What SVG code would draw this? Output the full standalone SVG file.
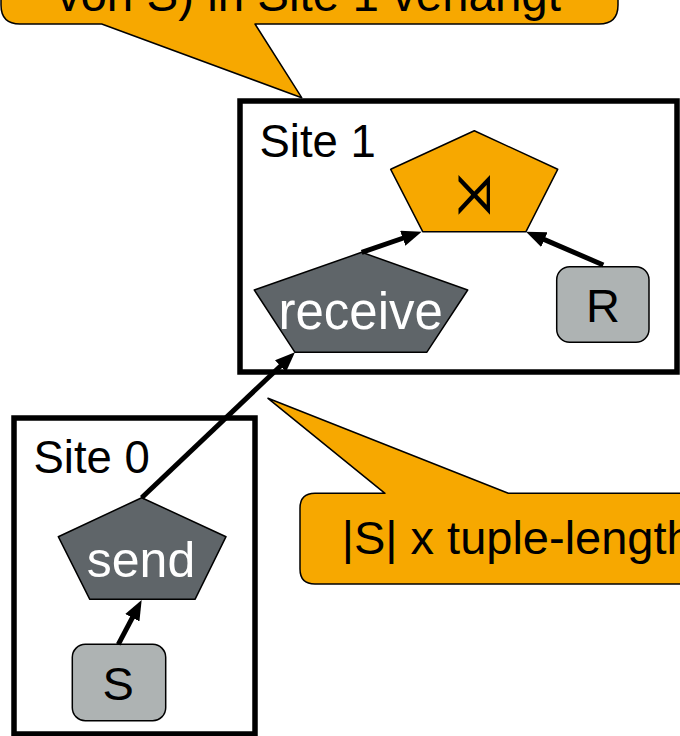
<svg xmlns="http://www.w3.org/2000/svg" width="680" height="736" viewBox="0 0 680 736">
  <style>
    .t { font-family: "Liberation Sans", Arial, sans-serif; fill: #000; }
    .w { font-family: "Liberation Sans", Arial, sans-serif; fill: #fff; }
    .callout { fill: #F7A800; stroke: #000; stroke-width: 1.5; stroke-linejoin: round; }
    .site { fill: none; stroke: #000; stroke-width: 5.5; }
    .op { fill: #5F6569; stroke: #000; stroke-width: 1.5; stroke-linejoin: round; }
    .join { fill: #F7A800; stroke: #000; stroke-width: 1.5; stroke-linejoin: round; }
    .rel { fill: #AEB3B3; stroke: #000; stroke-width: 1.5; }
    .edge { stroke: #000; stroke-width: 5; fill: none; marker-end: url(#arrow); }
  </style>
  <defs>
    <marker id="arrow" markerUnits="userSpaceOnUse" markerWidth="22" markerHeight="18" refX="10" refY="8" orient="auto">
      <path d="M0,0 L20,8 L0,16 Z" fill="#000"/>
    </marker>
  </defs>

  <g id="callout-top">
    <path class="callout" d="M101.7,24 L20,24 Q1,24 1,5 L1,-100 L618,-100 L618,5 Q618,24 599,24 L255,24 L301.7,97.7 Z"/>
    <text class="t" x="56.7" y="11" font-size="47.5">von S) in Site 1 verlangt</text>
  </g>

  <g id="site1">
    <rect class="site" x="240" y="101" width="437" height="271"/>
    <text class="t" x="259.5" y="156.7" font-size="45.5">Site 1</text>
  </g>

  <g id="site0">
    <rect class="site" x="14" y="418" width="241" height="316"/>
    <text class="t" x="33.5" y="473.3" font-size="45.5">Site 0</text>
  </g>

  <g id="callout-bottom">
    <path class="callout" d="M385,493.3 L268,398.3 L508.3,493.3 L700,493.3 L700,584 L315,584 Q300,584 300,569 L300,508.3 Q300,493.3 315,493.3 Z"/>
    <text class="t" x="341.7" y="554" font-size="47">|S| x tuple-length</text>
  </g>

  <g id="join">
    <polygon class="join" points="474.3,130.7 557.7,169.3 526,231.7 422.7,231.7 390.7,169.3"/>
    <text x="474.3" y="206" font-size="40" text-anchor="middle" font-family="DejaVu Sans, sans-serif" fill="#000" transform="translate(474.3,190) scale(1,1.45) translate(-474.3,-190)">⋊</text>
  </g>

  <g id="receive">
    <polygon class="op" points="361.7,252.3 467.7,290 426.7,352.3 295,352.3 254.3,290"/>
    <text class="w" x="360.7" y="329.3" font-size="51" text-anchor="middle">receive</text>
  </g>

  <g id="R">
    <rect class="rel" x="556.7" y="266.7" width="92.3" height="75.6" rx="13" ry="13"/>
    <text class="t" x="603" y="321.7" font-size="47" text-anchor="middle">R</text>
  </g>

  <g id="send">
    <polygon class="op" points="141.7,497.7 226,536.7 195,599.3 89.8,599.3 58.3,536.7"/>
    <text class="w" x="141" y="576.7" font-size="50" text-anchor="middle">send</text>
  </g>

  <g id="S">
    <rect class="rel" x="72.3" y="644.3" width="93.4" height="76.4" rx="13" ry="13"/>
    <text class="t" x="118.3" y="700" font-size="47" text-anchor="middle">S</text>
  </g>

  <g id="connectors">
    <line class="edge" x1="141.7" y1="497.7" x2="287.7" y2="359.2"/>
    <line class="edge" x1="361.7" y1="252.3" x2="412.2" y2="235.0"/>
    <line class="edge" x1="603.3" y1="265" x2="535.2" y2="235.6"/>
    <line class="edge" x1="118.3" y1="644.3" x2="137.0" y2="608.8"/>
  </g>
</svg>
